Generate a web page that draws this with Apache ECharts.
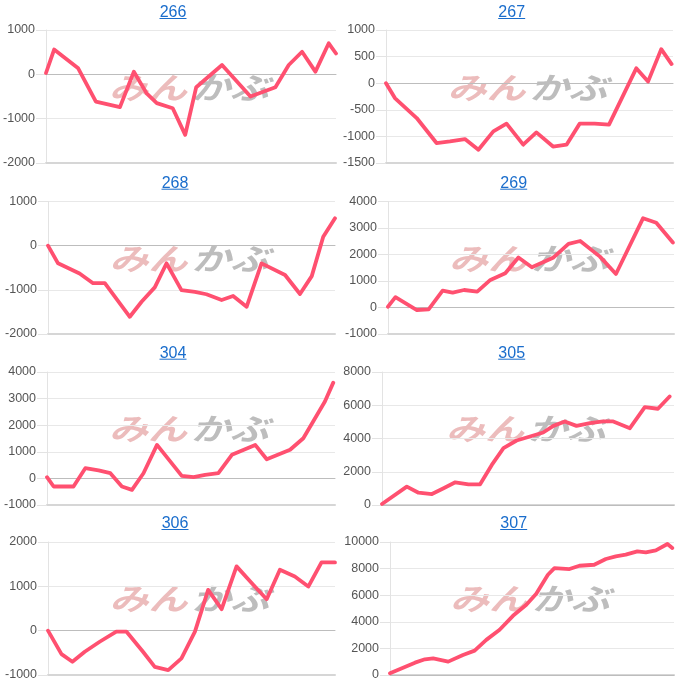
<!DOCTYPE html>
<html><head><meta charset="utf-8">
<script src="https://cdn.jsdelivr.net/npm/echarts@6/dist/echarts.min.js"></script>
<style>html,body{margin:0;padding:0;background:#fff}#c{width:681px;height:684px}</style>
</head><body><div id="c"></div>
<script>
// ---- data (x = position within the period, 0..100; y = value) ----
const titles = ['266','267','268','269','304','305','306','307'];

const x266 = [0,2.8,11.1,17.2,25.5,30.3,34.7,38.2,43.7,48.0,51.8,60.7,70.5,79.1,83.7,88.3,92.9,97.5,100];
const v266 = [30,560,135,-615,-740,60,-430,-650,-765,-1365,-290,210,-500,-290,210,510,60,700,470];

const x267 = [0,3.1,10.7,17.6,22.3,27.5,32.2,37.4,42.0,47.8,52.4,58.2,62.9,67.5,72.7,77.7,87.2,91.3,95.9,99.5];
const v267 = [0,-280,-655,-1125,-1095,-1050,-1250,-905,-760,-1155,-925,-1190,-1155,-760,-760,-780,280,30,640,360];

const x268 = [0,3.5,11.0,15.7,19.8,28.5,32.6,37.2,41.3,46.5,51.2,55.2,60.5,64.5,69.2,74.4,82.6,87.8,91.9,95.9,100];
const v268 = [0,-400,-630,-850,-850,-1610,-1270,-945,-400,-1005,-1045,-1100,-1230,-1140,-1385,-400,-665,-1095,-690,200,620];

const x269 = [0,2.6,10.1,14.2,19.1,22.6,26.6,31.2,35.8,41.0,45.6,50.3,57.9,63.1,67.2,74.1,79.7,89.2,93.8,99.6];
const v269 = [30,390,-95,-70,640,560,660,600,1040,1290,1890,1520,1890,2400,2510,1920,1265,3370,3200,2450];

const x304 = [0,2.3,9.2,13.3,17.9,22.0,26.0,29.5,33.5,38.2,46.8,50.9,54.9,59.5,64.2,72.3,76.3,84.4,89.0,96.5,99.4];
const v304 = [45,-305,-305,385,300,195,-305,-430,195,1260,95,45,135,195,885,1260,720,1075,1510,2890,3600];

const x305 = [0,8.5,12.5,17.1,21.1,25.1,29.6,33.6,37.6,41.6,46.1,50.7,55.2,58.7,62.6,66.6,71.2,75.7,79.2,84.9,90.0,94.5,98.5];
const v305 = [60,1105,740,660,1005,1365,1245,1245,2410,3420,3880,4120,4360,4760,5025,4760,4925,5025,5025,4620,5890,5790,6530];

const x306 = [0,4.7,8.5,12.8,18.0,23.8,27.3,33.1,37.2,41.9,46.5,51.2,55.8,60.5,65.7,71.5,76.2,80.8,86.0,90.7,95.3,100];
const v306 = [0,-530,-700,-475,-250,-20,-20,-475,-815,-890,-625,-20,920,485,1450,1035,710,1375,1220,995,1540,1540];

const x307 = [0,8.8,12.3,15.2,20.5,25.7,29.8,33.9,38.6,43.3,48.0,51.5,55.6,57.9,63.2,66.7,71.9,76.0,79.5,83.0,87.1,90.1,93.6,97.7,99.4];
const v307 = [125,930,1180,1255,1005,1510,1835,2640,3400,4450,5280,6110,7540,8040,7965,8215,8290,8720,8920,9045,9295,9220,9370,9850,9550];

const xs = [x266,x267,x268,x269,x304,x305,x306,x307];
const vs = [v266,v267,v268,v269,v304,v305,v306,v307];

const yMin  = [-2000,-1500,-2000,-1000,-1000,0,-1000,0];
const yMax  = [1000,1000,1000,4000,4000,8000,2000,10000];
const yStep = [1000,500,1000,1000,1000,2000,1000,2000];

// ---- layout ----
const boxes = [
  {left:46,  top:30,    width:290, height:133},
  {left:386, top:30,    width:287, height:133},
  {left:48,  top:201.5, width:287, height:132.5},
  {left:388, top:201.5, width:286, height:132.5},
  {left:47,  top:372,   width:288, height:133},
  {left:382, top:372,   width:292, height:133},
  {left:48,  top:542,   width:287, height:133},
  {left:390, top:542,   width:284, height:133}
];
const titleCx  = [173, 511.7, 175, 513.7, 173, 511.7, 175, 513.7];
const titleTop = [6, 6, 176.7, 176.7, 346.7, 346.7, 517, 517];

const LINE = '#ff5070';
const FONT = '"Liberation Sans", Arial, sans-serif';
const LINK = '#1a6dcc';

const grid = [], xAxis = [], yAxis = [], series = [], graphic = [];
let xi = 0;
for (let i = 0; i < 8; i++) {
  const b = boxes[i];
  grid.push({left:b.left, top:b.top, width:b.width, height:b.height});
  // bottom line
  xAxis.push({type:'value', gridIndex:i, min:0, max:100, position:'bottom',
    axisLine:{show:true, onZero:false, lineStyle:{color:'#d6d6d6', width:2}},
    axisTick:{show:false}, axisLabel:{show:false}, splitLine:{show:false}});
  // zero baseline
  xAxis.push({type:'value', gridIndex:i, min:0, max:100,
    axisLine:{show:true, onZero:true, lineStyle:{color:'#bdbdbd', width:1}},
    axisTick:{show:false}, axisLabel:{show:false}, splitLine:{show:false}});
  yAxis.push({type:'value', gridIndex:i, min:yMin[i], max:yMax[i], interval:yStep[i],
    axisLine:{show:true, lineStyle:{color:'#e3e3e3', width:1}},
    axisTick:{show:true, length:10, lineStyle:{color:'#e3e3e3', width:1}},
    axisLabel:{color:'#555', fontSize:12.5, fontFamily:FONT, margin:11, formatter:v => String(v)},
    splitLine:{show:true, lineStyle:{color:'#e8e8e8', width:1}}});
  series.push({type:'line', xAxisIndex:xi+1, yAxisIndex:i, symbol:'none', showSymbol:false,
    data: xs[i].map((d,k)=>[d, vs[i][k]]),
    lineStyle:{color:LINE, width:3.8, join:'round', cap:'round'}, z:5});
  xi += 2;
  // title (link style)
  graphic.push({type:'text', z:10, silent:true, x:titleCx[i], y:titleTop[i]-1.5,
    style:{text:titles[i], fill:LINK, font:'16px ' + FONT, align:'center', verticalAlign:'top'}});
  graphic.push({type:'line', z:10, silent:true,
    shape:{x1:titleCx[i]-13.5, y1:titleTop[i]+12.5, x2:titleCx[i]+13.5, y2:titleTop[i]+12.5},
    style:{stroke:LINK, lineWidth:1}});
  // watermark
  const cx = b.left + b.width/2, cy = titleTop[i] + 82;
  graphic.push({type:'group', x:cx, y:cy, z:1, silent:true, children:[
    {type:'text', x:-82, y:0, scaleX:1.3, style:{text:'みん', fill:'#ecbcbc',
      font:'italic bold 30px "Noto Sans CJK JP"', verticalAlign:'middle', align:'left'}},
    {type:'text', x:0, y:0, scaleX:1.3, style:{text:'かぶ', fill:'#bdbdbd',
      font:'italic bold 30px "Noto Sans CJK JP"', verticalAlign:'middle', align:'left'}}
  ]});
}

const chart = echarts.init(document.getElementById('c'), null, {renderer:'canvas'});
chart.setOption({animation:false, backgroundColor:'#fff', grid, xAxis, yAxis, series, graphic});
</script>
</body></html>
